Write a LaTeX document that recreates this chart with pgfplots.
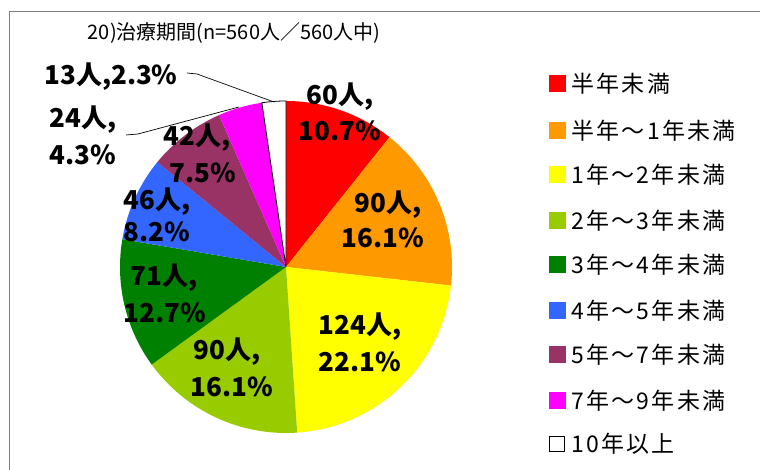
\documentclass[border=0pt]{standalone}
\usepackage{pgfplots}
\pgfplotsset{compat=1.18}
\usepackage{pgfplotstable}
\usepackage{fontspec}
\setmainfont{Noto Sans CJK JP}
\newfontfamily\legfont[LetterSpace=10]{Noto Sans CJK JP}
\definecolor{c0}{HTML}{FF0000}
\definecolor{c1}{HTML}{FF9900}
\definecolor{c2}{HTML}{FFFF00}
\definecolor{c3}{HTML}{99CC00}
\definecolor{c4}{HTML}{008000}
\definecolor{c5}{HTML}{3366FF}
\definecolor{c6}{HTML}{993366}
\definecolor{c7}{HTML}{FF00FF}
\definecolor{c8}{HTML}{FFFFFF}
\tikzset{
  s0/.style={fill=c0}, s1/.style={fill=c1}, s2/.style={fill=c2},
  s3/.style={fill=c3}, s4/.style={fill=c4}, s5/.style={fill=c5},
  s6/.style={fill=c6}, s7/.style={fill=c7},
  s8/.style={fill=white, draw=black, line width=0.8bp},
  lbl/.style={font=\fontsize{26bp}{30bp}\selectfont\bfseries, inner sep=0pt, anchor=center},
  leg/.style={font=\legfont\fontsize{23bp}{27bp}\selectfont, inner sep=0pt, anchor=west},
}
\pgfplotstableread{
idx n
0 60
1 90
2 124
3 90
4 71
5 46
6 42
7 24
8 13
}\piedata
\newcommand\legrow[3]{%
  \fill[#1] (axis cs:548.5,#2-8.5) rectangle (axis cs:565.5,#2+8.5);
  \node[leg] at (axis cs:571,#2) {#3};
}
\begin{document}
\begin{tikzpicture}
\begin{axis}[
  anchor=origin, at={(0,0)},
  width=760bp, height=470bp, scale only axis,
  xmin=0, xmax=760, ymin=0, ymax=470,
  hide axis, clip=false,
]
\def\cum{0}
\pgfplotsforeachungrouped \i in {0,...,8}{%
  \pgfplotstablegetelem{\i}{n}\of\piedata
  \let\val\pgfplotsretval
  \pgfmathsetmacro\a{90-\cum/560*360}%
  \pgfmathsetmacro\b{90-(\cum+\val)/560*360}%
  \edef\temp{\noexpand\path[s\i] (axis cs:286,203) -- ++(\a:166bp) arc[start angle=\a, end angle=\b, radius=166bp] -- cycle;}%
  \temp
  \pgfmathsetmacro\cum{\cum+\val}%
}
% frame
\draw[gray, line width=1.3bp] (axis cs:9.5,0) -- (axis cs:9.5,458.5) -- (axis cs:760,458.5);
% title
\node[font=\fontsize{20bp}{23bp}\selectfont, inner sep=0pt] at (axis cs:234,437) {20)治療期間(n=560人／560人中)};
% labels
\node[lbl] at (axis cs:340,373) {60人,};
\node[lbl] at (axis cs:340,339) {10.7\%};
\node[lbl] at (axis cs:388,265) {90人,};
\node[lbl] at (axis cs:383,232) {16.1\%};
\node[lbl] at (axis cs:360,143) {124人,};
\node[lbl] at (axis cs:360,108) {22.1\%};
\node[lbl] at (axis cs:227,118) {90人,};
\node[lbl] at (axis cs:232,83) {16.1\%};
\node[lbl] at (axis cs:164,192) {71人,};
\node[lbl] at (axis cs:165,157) {12.7\%};
\node[lbl] at (axis cs:157,268) {46人,};
\node[lbl] at (axis cs:157,238) {8.2\%};
\node[lbl] at (axis cs:197,332) {42人,};
\node[lbl] at (axis cs:203,297) {7.5\%};
\node[lbl] at (axis cs:83,350) {24人,};
\node[lbl] at (axis cs:83,315) {4.3\%};
\node[lbl] at (axis cs:111,393) {13人,2.3\%};
% leaders
\draw[black, line width=0.7bp] (axis cs:187,397) -- (axis cs:197,396) -- (axis cs:274,368);
\draw[black, line width=0.7bp] (axis cs:126,335) -- (axis cs:138,336) -- (axis cs:239,363);
% legend
\legrow{c0}{386}{半年未満}
\legrow{c1}{339}{半年～1年未満}
\legrow{c2}{295}{1年～2年未満}
\legrow{c3}{249}{2年～3年未満}
\legrow{c4}{205}{3年～4年未満}
\legrow{c5}{159}{4年～5年未満}
\legrow{c6}{115}{5年～7年未満}
\legrow{c7}{69}{7年～9年未満}
\draw[black, line width=0.8bp] (axis cs:549,18.5) rectangle (axis cs:564,33.5);
\node[leg] at (axis cs:571,26) {10年以上};
\end{axis}
\pgfresetboundingbox
\path (current axis.south west) rectangle (current axis.north east);
\end{tikzpicture}
\end{document}
